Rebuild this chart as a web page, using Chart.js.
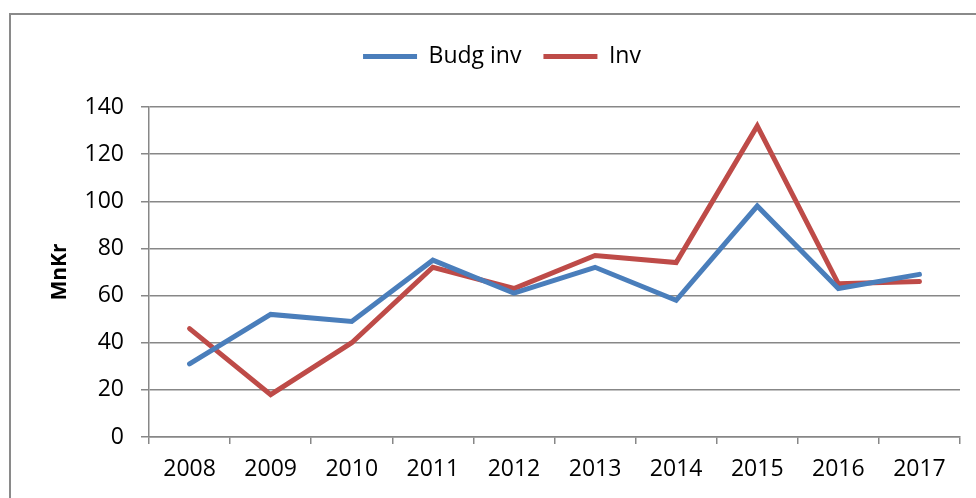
<!DOCTYPE html>
<html lang="en">
<head>
  <meta charset="UTF-8" />
  <title>Budg inv vs Inv</title>
  <script src="https://cdn.jsdelivr.net/npm/chart.js"></script>
  <style>
    html, body { margin: 0; padding: 0; background: #fff; }
    .chart-box { width: 976px; height: 498px; position: relative; }
  </style>
</head>
<body>
  <div class="chart-box">
    <canvas id="invChart"></canvas>
  </div>

<script>
  const years = ["2008", "2009", "2010", "2011", "2012", "2013", "2014", "2015", "2016", "2017"];
  const budgInv = [31, 52, 49, 75, 61, 72, 58, 98, 63, 69];
  const inv = [46, 18, 40, 72, 63, 77, 74, 132, 65, 66];

  const gridGray = "#878787";
  const font = "'Open Sans', 'Liberation Sans', sans-serif";

  // outer frame of the chart object (runs off the right and bottom edge)
  const framePlugin = {
    id: "frame",
    beforeDraw(chart) {
      const ctx = chart.ctx;
      ctx.save();
      ctx.strokeStyle = "#8a8a8a";
      ctx.lineWidth = 2;
      ctx.strokeRect(10, 14, 1000, 600);
      ctx.restore();
    }
  };

  // push the plot down below the legend
  const legendGap = {
    id: "legendGap",
    beforeInit(chart) {
      const fit = chart.legend.fit;
      chart.legend.fit = function () {
        fit.call(this);
        this.height += 29;
      };
    }
  };

  new Chart(document.getElementById("invChart"), {
    type: "line",
    data: {
      labels: years,
      datasets: [
        {
          label: "Budg inv",
          data: budgInv,
          borderColor: "#4a7ebb",
          backgroundColor: "#4a7ebb",
          borderWidth: 5,
          borderCapStyle: "round",
          pointRadius: 0,
          tension: 0
        },
        {
          label: "Inv",
          data: inv,
          borderColor: "#be4b48",
          backgroundColor: "#be4b48",
          borderWidth: 5,
          borderCapStyle: "round",
          pointRadius: 0,
          tension: 0
        }
      ]
    },
    options: {
      responsive: true,
      maintainAspectRatio: false,
      animation: false,
      layout: { padding: { top: 23, right: 16, bottom: 0, left: 44 } },
      plugins: {
        legend: {
          display: true,
          position: "top",
          labels: {
            color: "#000",
            font: { family: font, size: 23 },
            usePointStyle: true,
            pointStyle: "line",
            pointStyleWidth: 54,
            padding: 22
          }
        },
        tooltip: { enabled: false }
      },
      scales: {
        x: {
          offset: true,
          grid: {
            offset: true,
            drawOnChartArea: false,
            drawTicks: true,
            tickLength: 7,
            color: gridGray,
            lineWidth: 1.5
          },
          border: { color: gridGray, width: 1.5 },
          ticks: {
            color: "#000",
            font: { family: font, size: 23 },
            padding: 12,
            maxRotation: 0
          },
          afterFit: s => { s.height = 61; }
        },
        y: {
          min: 0,
          max: 140,
          ticks: {
            stepSize: 20,
            color: "#000",
            font: { family: font, size: 23 },
            padding: 17
          },
          grid: {
            color: gridGray,
            lineWidth: 1.5,
            tickLength: 8
          },
          border: { color: gridGray, width: 1.5 },
          title: {
            display: true,
            text: "MnKr",
            color: "#000",
            font: { family: font, size: 21, weight: "bold" },
            padding: { top: 3, bottom: 0 }
          },
          afterFit: s => { s.width = 105; }
        }
      }
    },
    plugins: [framePlugin, legendGap]
  });
</script>
</body>
</html>
